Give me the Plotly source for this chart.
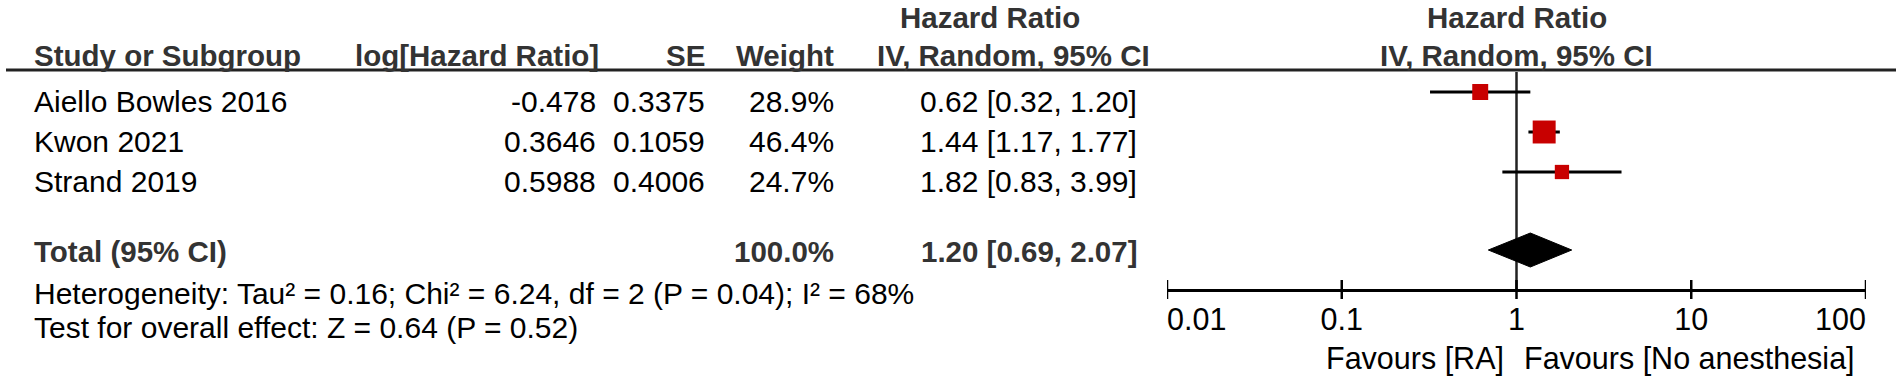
import plotly.graph_objects as go

# ---------------- data ----------------
studies = ["Aiello Bowles 2016", "Kwon 2021", "Strand 2019"]
log_hr = ["-0.478", "0.3646", "0.5988"]
se = ["0.3375", "0.1059", "0.4006"]
weights = [28.9, 46.4, 24.7]
hr = [0.62, 1.44, 1.82]
ci_low = [0.32, 1.17, 0.83]
ci_high = [1.20, 1.77, 3.99]
total_label = "Total (95% CI)"
total_weight = 100.0
total_hr = 1.20
total_low = 0.69
total_high = 2.07
heterogeneity = "Heterogeneity: Tau² = 0.16; Chi² = 6.24, df = 2 (P = 0.04); I² = 68%"
overall = "Test for overall effect: Z = 0.64 (P = 0.52)"
axis_ticks = [0.01, 0.1, 1, 10, 100]
axis_tick_labels = ["0.01", "0.1", "1", "10", "100"]
favours_left = "Favours [RA]"
favours_right = "Favours [No anesthesia]"
col_headers = ["Study or Subgroup", "log[Hazard Ratio]", "SE", "Weight", "IV, Random, 95% CI"]
effect_header = "Hazard Ratio"

# ---------------- layout / style ----------------
W, H = 1902, 380
FONT = "Liberation Sans, Arial, sans-serif"
FS = 30
FS_BOLD = 29.5
FS_AXIS = 30.5
BOLD_C = "#333333"
TXT_C = "#000000"
RED = "#C80000"

ROW_Y0, ROW_STEP, MARK_OFF = 101, 40, -9
TOTAL_Y, DIAMOND_Y, DIAMOND_H = 251, 250, 17
HEAD1_Y, HEAD2_Y, HEAD_LINE_Y = 17, 55, 70
HET_Y, OVR_Y = 293, 327
AXIS_Y, TICK_TOP, TICK_BOT = 290, 280, 299
TICKLAB_Y, FAV_Y = 322, 358
AX_L, AX_R = 1167, 1866

X_STUDY, X_LOG, X_SE, X_W, X_CI, X_CI_HEAD = 32, 598, 707, 836, 1139, 1152
X_HR_HEAD = 990

fig = go.Figure()
ann = []


def txt(x, y, s, xanchor, bold=False, xref="x", color=None, size=None):
    ann.append(dict(
        x=x, y=y, xref=xref, yref="y", text=f"<b>{s}</b>" if bold else s,
        xanchor=xanchor, yanchor="middle", showarrow=False,
        font=dict(family=FONT, size=size or (FS_BOLD if bold else FS),
                  color=color or (BOLD_C if bold else TXT_C)),
    ))


# headers
txt(X_HR_HEAD, HEAD1_Y, effect_header, "center", bold=True)
txt(0, HEAD1_Y, effect_header, "center", bold=True, xref="x2")
txt(X_STUDY, HEAD2_Y, col_headers[0], "left", bold=True)
txt(X_LOG + 3, HEAD2_Y, col_headers[1], "right", bold=True)
txt(X_SE, HEAD2_Y, col_headers[2], "right", bold=True)
txt(X_W, HEAD2_Y, col_headers[3], "right", bold=True)
txt(X_CI_HEAD, HEAD2_Y, col_headers[4], "right", bold=True)
txt(0, HEAD2_Y, col_headers[4], "center", bold=True, xref="x2")

# study rows
row_y = [ROW_Y0 + ROW_STEP * i for i in range(len(studies))]
mark_y = [y + MARK_OFF for y in row_y]
for i, s in enumerate(studies):
    y = row_y[i]
    txt(X_STUDY, y, s, "left")
    txt(X_LOG, y, log_hr[i], "right")
    txt(X_SE, y, se[i], "right")
    txt(X_W, y, f"{weights[i]:.1f}%", "right")
    txt(X_CI, y, f"{hr[i]:.2f} [{ci_low[i]:.2f}, {ci_high[i]:.2f}]", "right")

# total row
txt(X_STUDY, TOTAL_Y, total_label, "left", bold=True)
txt(X_W, TOTAL_Y, f"{total_weight:.1f}%", "right", bold=True)
txt(X_CI, TOTAL_Y, f"{total_hr:.2f} [{total_low:.2f}, {total_high:.2f}]", "right", bold=True)
txt(X_STUDY, HET_Y, heterogeneity, "left")
txt(X_STUDY, OVR_Y, overall, "left")

# favours labels
txt(-0.06, FAV_Y, favours_left, "right", xref="x2", size=FS_AXIS)
txt(0.03, FAV_Y, favours_right, "left", xref="x2", size=FS_AXIS)

# header rule
fig.add_shape(type="line", xref="x", yref="y", x0=6, x1=1896, y0=HEAD_LINE_Y, y1=HEAD_LINE_Y,
              line=dict(color="#222222", width=3))

# line of no effect
fig.add_trace(go.Scatter(x=[1, 1], y=[HEAD_LINE_Y + 2, AXIS_Y], xaxis="x2", yaxis="y", mode="lines",
                         line=dict(color="#222222", width=2.5), hoverinfo="skip", showlegend=False))

# CI whiskers
cx, cy = [], []
for i in range(len(studies)):
    cx += [ci_low[i], ci_high[i], None]
    cy += [mark_y[i], mark_y[i], None]
fig.add_trace(go.Scatter(x=cx, y=cy, xaxis="x2", yaxis="y", mode="lines",
                         line=dict(color="#000000", width=3), hoverinfo="skip", showlegend=False))

# squares (size scaled by weight)
sizes = [4.4 + 0.4 * w for w in weights]
fig.add_trace(go.Scatter(x=hr, y=mark_y, xaxis="x2", yaxis="y", mode="markers",
                         marker=dict(symbol="square", size=sizes, color=RED, opacity=1,
                                     line=dict(width=0)),
                         showlegend=False))

# pooled diamond
fig.add_trace(go.Scatter(
    x=[total_low, total_hr, total_high, total_hr, total_low],
    y=[DIAMOND_Y, DIAMOND_Y - DIAMOND_H, DIAMOND_Y, DIAMOND_Y + DIAMOND_H, DIAMOND_Y],
    xaxis="x2", yaxis="y", mode="lines", fill="toself", fillcolor="#000000",
    line=dict(color="#000000", width=1), showlegend=False))

# axis ticks (crossing the axis line)
tx, ty = [], []
for t in axis_ticks:
    tx += [t, t, None]
    ty += [TICK_TOP, TICK_BOT, None]
fig.add_trace(go.Scatter(x=tx, y=ty, xaxis="x2", yaxis="y", mode="lines",
                         line=dict(color="#000000", width=2.5), hoverinfo="skip", showlegend=False))

# tick labels
positions = ["middle right"] + ["middle center"] * (len(axis_ticks) - 2) + ["middle left"]
fig.add_trace(go.Scatter(x=axis_ticks, y=[TICKLAB_Y] * len(axis_ticks), xaxis="x2", yaxis="y",
                         mode="text", text=axis_tick_labels, textposition=positions,
                         textfont=dict(family=FONT, size=FS_AXIS, color=TXT_C), showlegend=False))

fig.update_layout(
    width=W, height=H, margin=dict(l=0, r=0, t=0, b=0),
    paper_bgcolor="white", plot_bgcolor="white", showlegend=False,
    annotations=ann,
    xaxis=dict(range=[0, W], domain=[0, 1], visible=False, fixedrange=True),
    xaxis2=dict(type="log", range=[-2, 2], domain=[AX_L / W, AX_R / W], anchor="free",
                position=1 - AXIS_Y / H, showline=True, linecolor="#000000", linewidth=3,
                showgrid=False, zeroline=False, ticks="", showticklabels=False, fixedrange=True),
    yaxis=dict(range=[H, 0], domain=[0, 1], visible=False, fixedrange=True),
)

fig.write_html("out.html", config={"displayModeBar": False},
               post_script="document.body.style.margin='0';document.body.style.overflow='hidden';")
